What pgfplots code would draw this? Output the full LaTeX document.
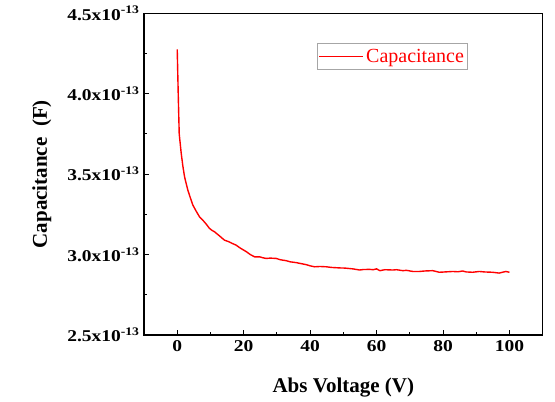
\documentclass[border=0pt]{standalone}
\usepackage{fontspec}
\setmainfont{Liberation Serif}
\newfontfamily\tickfont[FakeStretch=1.18]{Liberation Serif}
\usepackage{pgfplots}
\pgfplotsset{compat=1.18}
\begin{document}
\begin{tikzpicture}
\path[use as bounding box] (-144bp,-67bp) rectangle (411bp,335bp);
\begin{axis}[
  at={(0,0)}, anchor=south west,
  scale only axis, width=398.7bp, height=321.7bp,
  xmin=-10, xmax=110, ymin=2.5, ymax=4.5,
  xtick={0,20,40,60,80,100},
  xticklabels={0,20,40,60,80,100},
  ytick={2.5,3.0,3.5,4.0,4.5},
  yticklabels={2.5x10\textsuperscript{-13},3.0x10\textsuperscript{-13},3.5x10\textsuperscript{-13},4.0x10\textsuperscript{-13},4.5x10\textsuperscript{-13}},
  minor x tick num=1, minor y tick num=1,
  tick align=inside, xtick pos=lower, ytick pos=left,
  major tick length=5bp, minor tick length=3bp,
  axis line style={line width=1.3bp},
  every tick/.style={black, line width=0.9bp},
  ticklabel style={font=\tickfont\bfseries\fontsize{16.5bp}{18bp}\selectfont},
  yticklabel style={xshift=-1bp},
  xticklabel style={yshift=-2bp},
  xlabel={Abs Voltage (V)}, ylabel={Capacitance\ \ (F)},
  label style={font=\bfseries\fontsize{21bp}{24bp}\selectfont},
  xlabel style={at={(axis description cs:0.5,-0.1772)}, anchor=base},
  ylabel style={at={(axis description cs:-0.2433,0.5)}, anchor=base},
  legend style={at={(axis description cs:0.4339,0.9068)}, anchor=north west,
    draw=gray!70, line width=0.6bp, inner xsep=1.5bp, inner ysep=3.5bp,
    font=\fontsize{20bp}{22bp}\selectfont, text=red},
  legend image code/.code={\draw[#1] (0bp,0bp) -- (44bp,0bp);},
]
\addplot[red, line width=1.4bp] coordinates {
(0,4.276) (0.3,4.00) (0.6,3.75) (0.8,3.71) (1.2,3.63) (1.7,3.55) (2.2,3.484)
(3.2,3.40) (4.0,3.35) (4.7,3.308) (5.7,3.27) (6.7,3.235) (7.7,3.214) (8.7,3.19)
(9.7,3.163) (10.5,3.15) (11.2,3.142) (12.5,3.12) (14.2,3.09) (15.5,3.08)
(16.5,3.07) (17.7,3.059) (19,3.04) (20.8,3.018) (22,3.00) (23.3,2.986)
(24.8,2.986) (25.8,2.98) (26.8,2.976) (28,2.978) (29.8,2.976) (31,2.968)
(32.8,2.962) (34,2.955) (35.8,2.95) (37,2.945) (38.9,2.937) (40,2.93)
(41.4,2.924) (43,2.926) (44.9,2.924) (46.5,2.92) (48.9,2.917) (50.5,2.916)
(52.9,2.911) (54.9,2.904) (56,2.907) (57.9,2.908) (59,2.906) (60,2.911)
(61,2.90) (62.5,2.906) (64.9,2.904) (66,2.906) (67.9,2.90) (69,2.902)
(70.9,2.895) (72.9,2.895) (74.5,2.898) (76.9,2.90) (78.9,2.89) (80.5,2.892)
(82.9,2.895) (84.5,2.893) (85.9,2.898) (87,2.892) (88.9,2.89) (90.9,2.895)
(92.5,2.892) (94.9,2.89) (96.9,2.885) (98.9,2.895) (100,2.89)
};
\addlegendentry{Capacitance}
\end{axis}
\end{tikzpicture}
\end{document}
